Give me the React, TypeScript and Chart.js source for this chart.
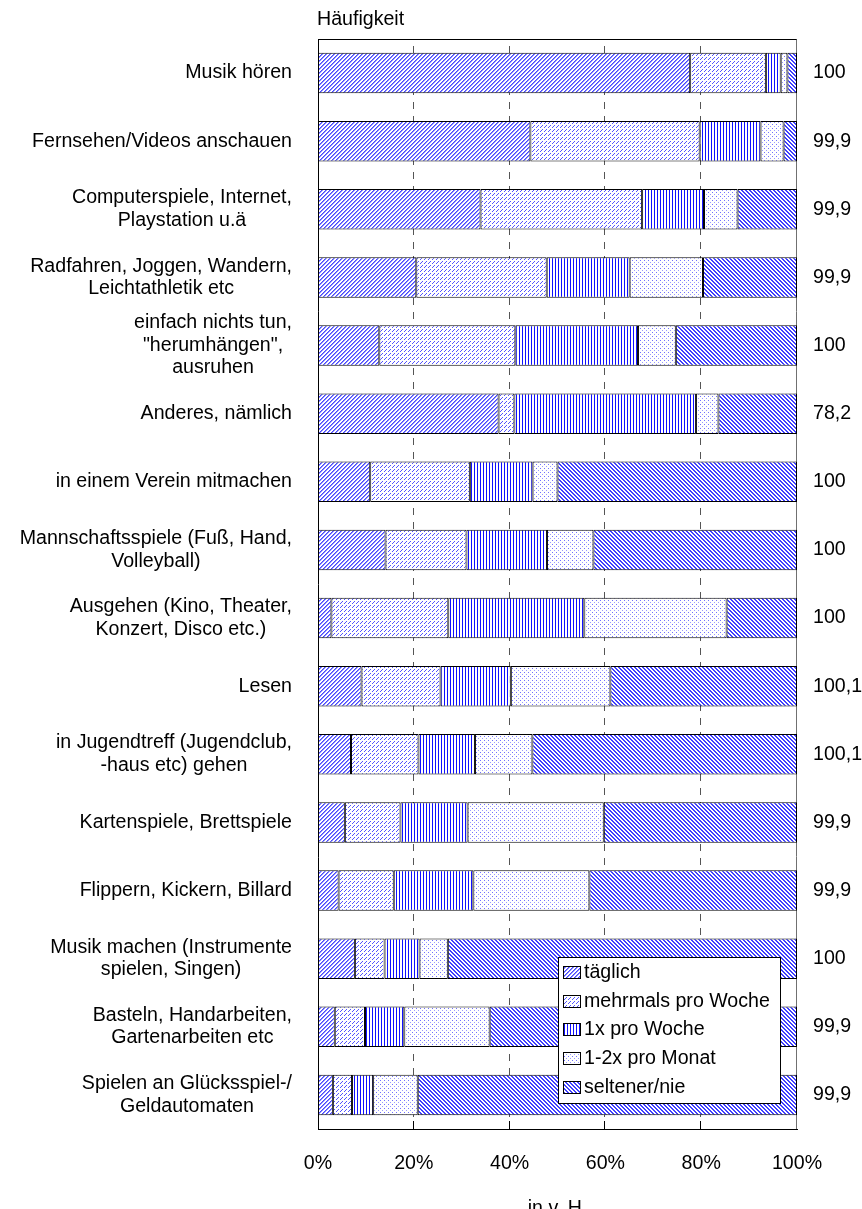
import React, { useEffect, useRef } from 'react';
import { Chart, registerables } from 'chart.js';

Chart.register(...registerables);

const categories: string[][] = [
  ['Musik hören'],
  ['Fernsehen/Videos anschauen'],
  ['Computerspiele, Internet,', 'Playstation u.ä'],
  ['Radfahren, Joggen, Wandern,', 'Leichtathletik etc'],
  ['einfach nichts tun,', '"herumhängen",', 'ausruhen'],
  ['Anderes, nämlich'],
  ['in einem Verein mitmachen'],
  ['Mannschaftsspiele (Fuß, Hand,', 'Volleyball)'],
  ['Ausgehen (Kino, Theater,', 'Konzert, Disco etc.)'],
  ['Lesen'],
  ['in Jugendtreff (Jugendclub,', '-haus etc) gehen'],
  ['Kartenspiele, Brettspiele'],
  ['Flippern, Kickern, Billard'],
  ['Musik machen (Instrumente', 'spielen, Singen)'],
  ['Basteln, Handarbeiten,', 'Gartenarbeiten etc'],
  ['Spielen an Glücksspiel-/', 'Geldautomaten'],
];

const seriesNames = ['täglich', 'mehrmals pro Woche', '1x pro Woche', '1-2x pro Monat', 'seltener/nie'];

const taeglich = [77.7, 44.3, 33.9, 20.5, 12.8, 37.7, 10.9, 14.1, 2.8, 9.1, 6.9, 5.6, 4.3, 7.7, 3.5, 3.1];
const mehrmalsProWoche = [15.8, 35.3, 33.7, 27.2, 28.4, 3.3, 20.8, 16.9, 24.4, 16.5, 14.1, 11.6, 11.5, 6.2, 6.3, 4.0];
const einmalProWoche = [3.1, 12.7, 12.9, 17.3, 25.6, 37.9, 13.1, 16.8, 28.4, 14.7, 11.8, 14.0, 16.6, 7.3, 8.2, 4.4];
const proMonat = [1.4, 4.8, 7.0, 15.3, 7.9, 4.7, 5.2, 9.7, 29.7, 20.8, 12.0, 28.4, 24.2, 5.9, 17.8, 9.3];
const seltenerNie = [2.0, 2.8, 12.4, 19.6, 25.3, 16.4, 50.0, 42.5, 14.7, 39.0, 55.3, 40.3, 43.3, 72.9, 64.1, 79.1];

const totals = ['100', '99,9', '99,9', '99,9', '100', '78,2', '100', '100', '100', '100,1', '100,1', '99,9', '99,9', '100', '99,9', '99,9'];

const xTickValues = [0, 20, 40, 60, 80, 100];
const gridValues = [20, 40, 60, 80];

const FONT = "'Liberation Sans', Arial, sans-serif";
const FS = 19.6;

type Painter = (g: CanvasRenderingContext2D) => void;

function makePattern(ctx: CanvasRenderingContext2D, w: number, h: number, paint: Painter): CanvasPattern {
  const c = document.createElement('canvas');
  c.width = w;
  c.height = h;
  const g = c.getContext('2d')!;
  g.fillStyle = '#ffffff';
  g.fillRect(0, 0, w, h);
  paint(g);
  return ctx.createPattern(c, 'repeat') as CanvasPattern;
}

function buildPatterns(ctx: CanvasRenderingContext2D): CanvasPattern[] {
  const px = (g: CanvasRenderingContext2D, x: number, y: number, col: string) => {
    g.fillStyle = col;
    g.fillRect(x, y, 1, 1);
  };
  const p1 = makePattern(ctx, 4, 4, (g) => {
    for (let i = 0; i < 4; i++) {
      px(g, i, 3 - i, '#4848ff');
      px(g, i, (4 - i) % 4, '#8a8aff');
    }
  });
  const p2 = makePattern(ctx, 8, 8, (g) => {
    for (let i = 0; i < 8; i++) {
      if (i % 4 !== 3) {
        px(g, i, 7 - i, '#5454ff');
        px(g, i, (11 - i) % 8, '#5454ff');
      }
    }
  });
  const p3 = makePattern(ctx, 3, 1, (g) => {
    px(g, 0, 0, '#1010ff');
  });
  const p4 = makePattern(ctx, 4, 4, (g) => {
    px(g, 0, 0, '#7070ff');
    px(g, 2, 2, '#9a9aff');
  });
  const p5 = makePattern(ctx, 4, 4, (g) => {
    for (let i = 0; i < 4; i++) {
      px(g, i, i, '#4040ff');
      px(g, i, (i + 1) % 4, '#4040ff');
    }
  });
  return [p1, p2, p3, p4, p5];
}

export default function App() {
  const ref = useRef<HTMLCanvasElement | null>(null);

  useEffect(() => {
    document.body.style.margin = '0';
    const canvas = ref.current!;
    const ctx = canvas.getContext('2d')!;
    const patterns = buildPatterns(ctx);
    const rawSeries = [taeglich, mehrmalsProWoche, einmalProWoche, proMonat, seltenerNie];
    const rowSums = categories.map((_, i) => rawSeries.reduce((s, arr) => s + arr[i], 0));

    const overlay = {
      id: 'overlay',
      beforeDatasetsDraw(chart: any) {
        const { ctx: c, chartArea: a, scales } = chart;
        const x = scales.x;
        c.save();
        c.lineWidth = 1;
        c.strokeStyle = '#555555';
        c.setLineDash([7, 7]);
        for (const v of gridValues) {
          const p = Math.round(x.getPixelForValue(v)) - 0.5;
          c.beginPath();
          c.moveTo(p, a.top + 7);
          c.lineTo(p, a.bottom);
          c.stroke();
        }
        c.setLineDash([]);
        c.strokeStyle = '#000000';
        for (const v of gridValues) {
          const p = Math.round(x.getPixelForValue(v)) - 0.5;
          c.beginPath();
          c.moveTo(p, a.bottom - 8);
          c.lineTo(p, a.bottom);
          c.stroke();
        }
        c.strokeStyle = '#707070';
        const r = Math.round(x.getPixelForValue(100)) - 0.5;
        c.beginPath();
        c.moveTo(r, a.top);
        c.lineTo(r, a.bottom);
        c.stroke();
        c.strokeStyle = '#000000';
        c.beginPath();
        c.moveTo(a.left, Math.round(a.top) + 0.5);
        c.lineTo(r, Math.round(a.top) + 0.5);
        c.stroke();
        c.restore();
      },
      afterDraw(chart: any) {
        const { ctx: c, chartArea: a, scales } = chart;
        const y = scales.y;
        c.save();
        c.font = `${FS}px ${FONT}`;
        c.fillStyle = '#000000';
        c.textBaseline = 'middle';
        const lh = 22.5;
        categories.forEach((lines, i) => {
          const cy = y.getPixelForValue(i);
          const maxW = Math.max(...lines.map((l) => c.measureText(l).width));
          const cx = 292 - maxW / 2;
          c.textAlign = 'center';
          lines.forEach((l, k) => {
            const ly = cy + (k - (lines.length - 1) / 2) * lh;
            c.fillText(l, cx, ly);
          });
          c.textAlign = 'left';
          c.fillText(totals[i], 813, cy);
        });
        c.textAlign = 'left';
        c.fillText('Häufigkeit', 317, 20);
        c.textAlign = 'center';
        c.textBaseline = 'alphabetic';
        c.fillText('in v. H.', (a.left + a.right) / 2, 1214);
        const lx = 558, ly = 957, lw = 222, lhgt = 146;
        c.fillStyle = '#ffffff';
        c.fillRect(lx, ly, lw, lhgt);
        c.strokeStyle = '#000000';
        c.lineWidth = 1;
        c.strokeRect(lx + 0.5, ly + 0.5, lw, lhgt);
        const rows = [972, 1001, 1029, 1058, 1087];
        seriesNames.forEach((name, k) => {
          const ry = rows[k];
          c.fillStyle = patterns[k];
          c.fillRect(563, ry - 6, 18, 13);
          c.strokeStyle = '#000000';
          c.strokeRect(563.5, ry - 5.5, 17, 12);
          c.fillStyle = '#000000';
          c.textAlign = 'left';
          c.textBaseline = 'middle';
          c.fillText(name, 584, ry + 0.5);
        });
        c.restore();
      },
    };

    const chart = new Chart(canvas, {
      type: 'bar',
      data: {
        labels: categories.map((l) => l.join(' ')),
        datasets: rawSeries.map((arr, k) => ({
          label: seriesNames[k],
          data: arr.map((v, i) => (v / rowSums[i]) * 100),
          backgroundColor: patterns[k],
          borderColor: '#000000',
          borderWidth: 1,
          borderSkipped: false,
          barPercentage: 0.595,
          categoryPercentage: 1,
        })),
      },
      options: {
        indexAxis: 'y',
        responsive: false,
        animation: false,
        layout: { padding: { top: 39, right: 65, bottom: 0, left: 0 } },
        scales: {
          x: {
            stacked: true,
            min: 0,
            max: 100,
            afterFit: (s: any) => {
              s.height = 80;
            },
            afterBuildTicks: (s: any) => {
              s.ticks = xTickValues.map((v) => ({ value: v }));
            },
            ticks: {
              padding: 23,
              color: '#000000',
              font: { family: FONT, size: FS },
              callback: (v: any) => `${v}%`,
            },
            grid: { display: false, drawTicks: false },
            border: { display: true, color: '#000000', width: 1 },
          },
          y: {
            stacked: true,
            afterFit: (s: any) => {
              s.width = 318;
            },
            ticks: { display: false },
            grid: { display: false, drawTicks: false },
            border: { display: true, color: '#000000', width: 1 },
          },
        },
        plugins: {
          legend: { display: false },
          tooltip: { enabled: false },
          title: { display: false },
        },
      },
      plugins: [overlay],
    } as any);

    return () => {
      chart.destroy();
    };
  }, []);

  return <canvas ref={ref} width={862} height={1209} style={{ display: 'block' }} />;
}
